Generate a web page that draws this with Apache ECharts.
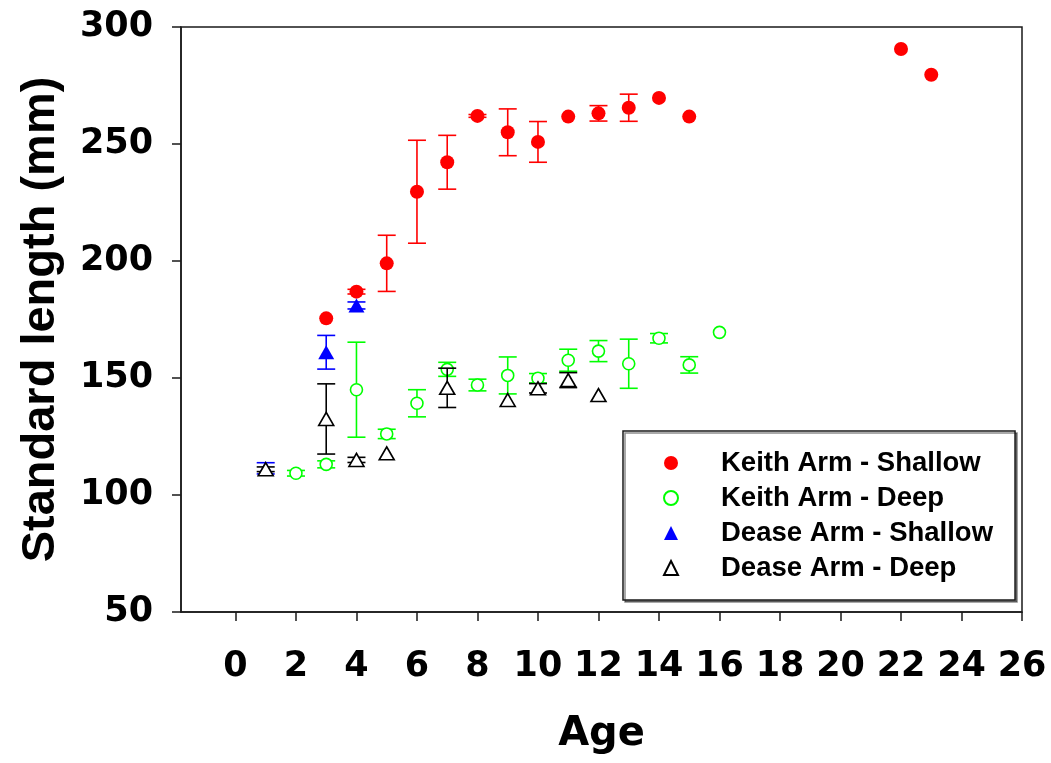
<!DOCTYPE html>
<html>
<head>
<meta charset="utf-8">
<script src="https://cdn.jsdelivr.net/npm/echarts@6/dist/echarts.min.js"></script>
<style>
html,body{margin:0;padding:0;background:#fff;}
#chart{width:1051px;height:763px;}
</style>
</head>
<body>
<div id="chart"></div>
<script>
// ---- data ----
const seriesNames = ['Keith Arm - Shallow', 'Keith Arm - Deep', 'Dease Arm - Shallow', 'Dease Arm - Deep'];

const keithShallowAge  = [3, 4, 5, 6, 7, 8, 9, 10, 11, 12, 13, 14, 15, 22, 23];
const keithShallowMean = [175.5, 186.9, 199, 229.6, 242.2, 262, 255, 250.9, 261.7, 263.1, 265.5, 269.7, 261.7, 290.6, 279.6];
const keithShallowErr  = [0, 1, 12, 22, 11.5, 0.6, 10, 8.7, 0, 3.3, 5.8, 0, 0, 0, 0];

const keithDeepAge  = [2, 3, 4, 5, 6, 7, 8, 9, 10, 11, 12, 13, 14, 15, 16];
const keithDeepMean = [109.3, 113.1, 145, 126.1, 139.2, 153.7, 147, 151.1, 149.9, 157.6, 161.5, 156.1, 167, 155.6, 169.5];
const keithDeepErr  = [1.2, 1.5, 20.3, 2, 5.8, 3, 2.5, 7.9, 2, 4.7, 4.5, 10.5, 2, 3.5, 0];

const deaseShallowAge  = [1, 3, 4];
const deaseShallowMean = [111.4, 161, 181];
const deaseShallowErr  = [2.4, 7.2, 1.5];

const deaseDeepAge  = [1, 3, 4, 5, 7, 9, 10, 11, 12];
const deaseDeepMean = [111, 132.5, 115, 117.8, 145.8, 140.6, 145.6, 149.1, 142.7];
const deaseDeepErr  = [1, 15, 1.1, 0, 8.4, 0, 2, 3.2, 0];

const xTickValues = [0, 2, 4, 6, 8, 10, 12, 14, 16, 18, 20, 22, 24, 26];

// ---- helpers ----
function points(ages, means) { return ages.map((a, i) => [a, means[i]]); }
function bars(ages, means, errs) {
  const out = [];
  ages.forEach((a, i) => { if (errs[i] > 0) out.push([a, means[i] - errs[i], means[i] + errs[i]]); });
  return out;
}
function errRender(color) {
  return function (params, api) {
    const x = api.value(0), lo = api.value(1), hi = api.value(2);
    const p1 = api.coord([x, lo]), p2 = api.coord([x, hi]);
    const w = 9;
    const st = { stroke: color, lineWidth: 1.6 };
    return {
      type: 'group',
      children: [
        { type: 'line', shape: { x1: p1[0], y1: p1[1], x2: p2[0], y2: p2[1] }, style: st },
        { type: 'line', shape: { x1: p1[0] - w, y1: p1[1], x2: p1[0] + w, y2: p1[1] }, style: st },
        { type: 'line', shape: { x1: p2[0] - w, y1: p2[1], x2: p2[0] + w, y2: p2[1] }, style: st }
      ]
    };
  };
}
function errSeries(id, data, color, z) {
  return { type: 'custom', name: id, data: data, renderItem: errRender(color),
           encode: { x: 0, y: [1, 2] }, z: z, silent: true, clip: false };
}

const ARIAL = '"Liberation Sans", Arial, Helvetica, sans-serif';
const WIDE = '"DejaVu Sans", "Liberation Sans", Arial, sans-serif';
const AX = '#1a1a1a';

const chart = echarts.init(document.getElementById('chart'), null, { renderer: 'canvas' });
chart.setOption({
  animation: false,
  backgroundColor: '#ffffff',
  grid: { left: 181, top: 27, right: 29, bottom: 151, show: true, borderColor: AX, borderWidth: 1.5, backgroundColor: 'transparent' },
  xAxis: {
    type: 'value', min: -1.8, max: 26,
    name: 'Age', nameLocation: 'middle', nameGap: 103,
    nameTextStyle: { fontFamily: WIDE, fontWeight: 'bold', fontSize: 40, color: '#000' },
    axisLine: { show: true, onZero: false, lineStyle: { color: AX, width: 1.5 } },
    axisTick: { show: true, inside: false, length: 9, customValues: xTickValues, lineStyle: { color: AX, width: 1.5 } },
    axisLabel: { customValues: xTickValues, margin: 37, fontFamily: WIDE, fontWeight: 'bold', fontSize: 35, color: '#000' },
    splitLine: { show: false }
  },
  yAxis: {
    type: 'value', min: 50, max: 300, interval: 50,
    name: 'Standard length (mm)', nameLocation: 'middle', nameGap: 116,
    nameTextStyle: { fontFamily: ARIAL, fontWeight: 'bold', fontSize: 47, color: '#000' },
    axisLine: { show: true, onZero: false, lineStyle: { color: AX, width: 1.5 } },
    axisTick: { show: true, inside: false, length: 9, lineStyle: { color: AX, width: 1.5 } },
    axisLabel: { margin: 28, fontFamily: WIDE, fontWeight: 'bold', fontSize: 35, color: '#000' },
    splitLine: { show: false }
  },
  legend: {
    data: seriesNames,
    orient: 'vertical',
    left: 623, top: 431,
    padding: [18, 22, 18, 40],
    itemWidth: 14, itemHeight: 14, itemGap: 7,
    backgroundColor: '#fff',
    borderColor: AX, borderWidth: 1.5,
    shadowColor: 'rgba(0,0,0,0.45)', shadowOffsetX: 2, shadowOffsetY: 2, shadowBlur: 0,
    textStyle: { fontFamily: ARIAL, fontWeight: 'bold', fontSize: 27.5, color: '#000', padding: [0, 0, 0, 38] },
    selectedMode: false
  },
  series: [
    errSeries('err-ks', bars(keithShallowAge, keithShallowMean, keithShallowErr), '#ff0000', 2),
    { type: 'scatter', name: seriesNames[0], data: points(keithShallowAge, keithShallowMean),
      symbol: 'circle', symbolSize: 14, z: 3,
      itemStyle: { color: '#ff0000', opacity: 1 } },
    errSeries('err-kd', bars(keithDeepAge, keithDeepMean, keithDeepErr), '#00ff00', 4),
    { type: 'scatter', name: seriesNames[1], data: points(keithDeepAge, keithDeepMean),
      symbol: 'circle', symbolSize: 12, z: 5,
      itemStyle: { color: '#ffffff', borderColor: '#00ff00', borderWidth: 1.6, opacity: 1 } },
    errSeries('err-ds', bars(deaseShallowAge, deaseShallowMean, deaseShallowErr), '#0000ff', 6),
    { type: 'scatter', name: seriesNames[2], data: points(deaseShallowAge, deaseShallowMean),
      symbol: 'triangle', symbolSize: [16, 14], z: 7,
      itemStyle: { color: '#0000ff', opacity: 1 } },
    errSeries('err-dd', bars(deaseDeepAge, deaseDeepMean, deaseDeepErr), '#000000', 8),
    { type: 'scatter', name: seriesNames[3], data: points(deaseDeepAge, deaseDeepMean),
      symbol: 'triangle', symbolSize: [15, 13], z: 9,
      itemStyle: { color: '#ffffff', borderColor: '#000000', borderWidth: 1.6, opacity: 1 } }
  ]
});
</script>
</body>
</html>
